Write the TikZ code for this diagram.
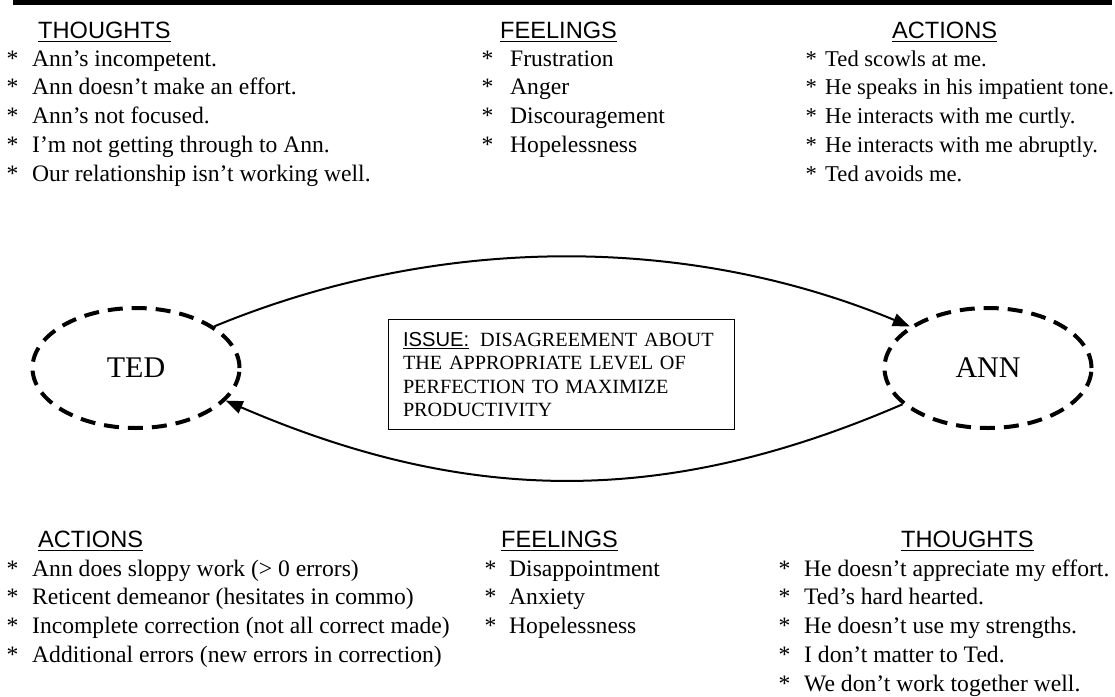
\documentclass[tikz,border=0pt]{standalone}
\usepackage{fontspec}
\setmainfont{Liberation Serif}
\setsansfont{Liberation Sans}
\usetikzlibrary{shapes.geometric,arrows.meta}
\newcommand\hdul[1]{\setbox0\hbox{#1}\rlap{\rule[-4.4pt]{\wd0}{1.4pt}}\box0}
\newcommand\isul[1]{\setbox0\hbox{#1}\rlap{\rule[-2.6pt]{\wd0}{1.2pt}}\box0}
\begin{document}
\begin{tikzpicture}[x=1pt,y=-1pt,
  item/.style={anchor=base west, inner sep=0pt, font=\fontsize{23.6}{28.8}\selectfont},
  itemnarrow/.style={item, font=\fontsize{22.6}{28.8}\selectfont},
  head/.style={anchor=base west, inner sep=0pt, font=\sffamily\fontsize{23.6}{28.8}\selectfont},
  person/.style={ellipse, draw, dash pattern=on 15pt off 9pt, line width=4pt,
    minimum width=207pt, minimum height=120pt, inner sep=0pt, font=\fontsize{30}{36}\selectfont},
  link/.style={line width=2pt, -{Triangle[length=17pt,width=13pt]}},
  issuebox/.style={draw, line width=1.3pt, minimum width=346pt, minimum height=110pt,
    text width=317pt, align=left, inner sep=0pt, font=\fontsize{20.2}{23.3}\selectfont}]
\useasboundingbox (0,0) rectangle (1115,696);
% top bar
\fill (13,0) rectangle (1112,4.5);
% top headers
\node[head] (h1) at (38,38) {\hdul{THOUGHTS}};
\node[head] (h2) at (500,38) {\hdul{FEELINGS}};
\node[head] (h3) at (892,38) {\hdul{ACTIONS}};
% top-left thoughts
\foreach \t [count=\i] in {Ann’s incompetent., Ann doesn’t make an effort., Ann’s not focused., I’m not getting through to Ann., Our relationship isn’t working well.}
  \node[item] (tl\i) at ({6.5},{66+28.8*(\i-1)}) {\makebox[25.5pt][l]{*}\t};
% top-middle feelings
\foreach \t [count=\i] in {Frustration, Anger, Discouragement, Hopelessness}
  \node[item] (tm\i) at ({481.5},{66+28.8*(\i-1)}) {\makebox[28.5pt][l]{*}\t};
% top-right actions
\foreach \t [count=\i] in {Ted scowls at me., He speaks in his impatient tone., He interacts with me curtly., He interacts with me abruptly., Ted avoids me.}
  \node[itemnarrow] (tr\i) at ({805.5},{66+28.8*(\i-1)}) {\makebox[19.5pt][l]{*}\t};
% people
\node[person] (TED) at (136,368) {TED};
\node[person] (ANN) at (988,368) {ANN};
% issue
\node[issuebox] (issue) at (561.5,374.5) {\isul{\sffamily ISSUE:}\hspace{11pt}DISAGREEMENT ABOUT\\THE APPROPRIATE LEVEL OF\\PERFECTION TO MAXIMIZE\\PRODUCTIVITY};
% connectors
\draw[link] (TED.28) .. controls (438,234) and (687,234) .. (ANN.152);
\draw[link] (ANN.203) .. controls (667,506) and (470,506) .. (TED.-20);
% bottom headers
\node[head] (b1) at (38,547) {\hdul{ACTIONS}};
\node[head] (b2) at (501,547) {\hdul{FEELINGS}};
\node[head] (b3) at (901,547) {\hdul{THOUGHTS}};
% bottom-left actions
\foreach \t [count=\i] in {Ann does sloppy work (> 0 errors), Reticent demeanor (hesitates in commo), Incomplete correction (not all correct made), Additional errors (new errors in correction)}
  \node[item] (bl\i) at ({6.5},{576+28.8*(\i-1)}) {\makebox[25.5pt][l]{*}\t};
% bottom-middle feelings
\foreach \t [count=\i] in {Disappointment, Anxiety, Hopelessness}
  \node[item] (bm\i) at ({484.5},{576+28.8*(\i-1)}) {\makebox[24.5pt][l]{*}\t};
% bottom-right thoughts
\foreach \t [count=\i] in {He doesn’t appreciate my effort., Ted’s hard hearted., He doesn’t use my strengths., I don’t matter to Ted., We don’t work together well.}
  \node[item] (br\i) at ({778.5},{576+28.8*(\i-1)}) {\makebox[25.5pt][l]{*}\t};
\end{tikzpicture}
\end{document}
